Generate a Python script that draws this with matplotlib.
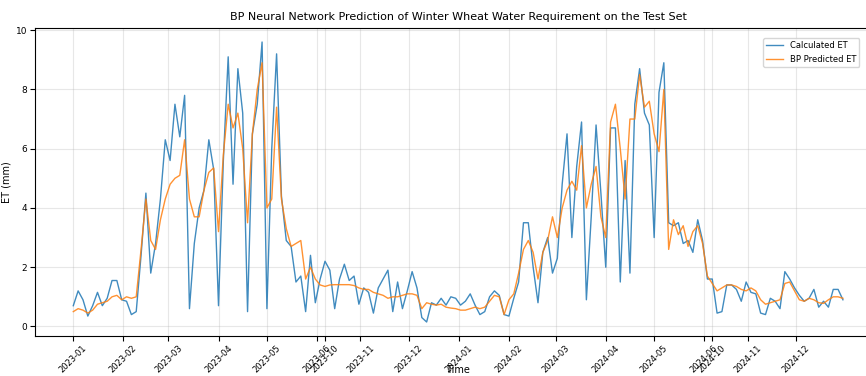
import numpy as np
import pandas as pd
import matplotlib
matplotlib.use("Agg")
import matplotlib.pyplot as plt

# test-set periods (winter wheat seasons), daily records
periods = [("2023-01-01", "2023-06-05"),
           ("2023-10-10", "2024-06-05"),
           ("2024-10-10", "2024-12-31")]
step_days = 3  # values below are read every 3rd day

calc_et = [0.7, 1.2, 0.9, 0.35, 0.7, 1.15, 0.7, 0.95, 1.55, 1.55,
           0.9, 0.85, 0.4, 0.5, 2.4, 4.5, 1.8, 2.8, 4.3, 6.3,
           5.6, 7.5, 6.4, 7.8, 0.6, 2.8, 4.0, 4.6, 6.3, 5.3,
           0.7, 5.6, 9.1, 4.8, 8.7, 7.2, 0.5, 6.5, 7.5, 9.6,
           0.6, 6.0, 9.2, 4.4, 2.9, 2.7, 1.5, 1.7, 0.5, 2.4,
           0.8, 1.6, 2.2, 1.9, 0.6, 1.6, 2.1, 1.55, 1.7, 0.75,
           1.3, 1.15, 0.45, 1.3, 1.6, 1.9, 0.5, 1.5, 0.6, 1.2,
           1.85, 1.3, 0.3, 0.15, 0.8, 0.72, 0.95, 0.72, 1.0, 0.95,
           0.72, 0.85, 1.1, 0.72, 0.4, 0.5, 1.0, 1.2, 1.05, 0.4,
           0.35, 0.95, 1.5, 3.5, 3.5, 2.0, 0.8, 2.5, 3.0, 1.8,
           2.3, 4.8, 6.5, 3.0, 5.4, 6.9, 0.9, 3.7, 6.8, 4.5,
           2.0, 6.7, 6.7, 1.5, 5.6, 1.8, 7.5, 8.7, 7.2, 6.8,
           3.0, 7.9, 8.9, 3.5, 3.4, 3.5, 2.8, 2.9, 2.5, 3.6,
           2.9, 1.6, 1.6, 0.45, 0.5, 1.4, 1.4, 1.25, 0.85, 1.5,
           1.15, 1.1, 0.45, 0.4, 0.95, 0.85, 0.6, 1.85, 1.6, 1.3,
           1.05, 0.85, 0.95, 1.25, 0.65, 0.85, 0.65, 1.25, 1.25, 0.9]

bp_et = [0.5, 0.6, 0.55, 0.45, 0.55, 0.75, 0.8, 0.85, 1.0, 1.05,
         0.9, 1.0, 0.95, 1.0, 2.6, 4.3, 2.9, 2.6, 3.6, 4.3,
         4.8, 5.0, 5.1, 6.3, 4.3, 3.7, 3.7, 4.6, 5.2, 5.35,
         3.2, 5.8, 7.5, 6.7, 7.2, 6.0, 3.5, 6.5, 8.0, 8.9,
         4.0, 4.3, 7.4, 4.3, 3.3, 2.7, 2.8, 2.9, 1.6, 2.0,
         1.6, 1.4, 1.35, 1.4, 1.41, 1.41, 1.41, 1.41, 1.38, 1.3,
         1.25, 1.25, 1.15, 1.1, 1.05, 0.95, 1.0, 1.0, 1.05, 1.1,
         1.1, 1.05, 0.6, 0.8, 0.75, 0.72, 0.75, 0.65, 0.62, 0.6,
         0.55, 0.55, 0.6, 0.65, 0.6, 0.65, 0.85, 1.05, 1.0, 0.4,
         0.9, 1.1, 1.8, 2.6, 2.9, 2.5, 1.6, 2.5, 2.9, 3.7,
         3.0, 4.0, 4.6, 4.9, 4.6, 6.1, 4.0, 4.8, 5.4, 3.7,
         3.0, 6.9, 7.5, 6.0, 4.3, 7.0, 7.0, 8.5, 7.4, 7.6,
         6.5, 5.9, 8.0, 2.6, 3.6, 3.1, 3.4, 2.7, 3.2, 3.4,
         2.8, 1.7, 1.45, 1.2, 1.3, 1.4, 1.4, 1.35, 1.25, 1.2,
         1.3, 1.2, 0.9, 0.75, 0.8, 0.85, 0.9, 1.45, 1.5, 1.2,
         0.9, 0.85, 0.95, 0.9, 0.8, 0.78, 0.9, 1.0, 1.0, 0.95]

days = pd.DatetimeIndex(np.concatenate(
    [pd.date_range(a, b, freq="D").values for a, b in periods]))
idx = np.arange(len(days))
x = idx[::step_days][:len(calc_et)]

# one tick at the first record of each month
months = days.to_period("M")
first = np.r_[True, months[1:] != months[:-1]]
tick_pos = idx[first]
tick_lab = [d.strftime("%Y-%m") for d in days[first]]

fig = plt.figure(figsize=(8.66, 3.76), dpi=100)
ax = fig.add_axes([0.0402, 0.1064, 0.9776, 0.8191])

ax.plot(x, calc_et, color="#1f77b4", lw=1.0, alpha=0.85, label="Calculated ET")
ax.plot(x, bp_et, color="#ff7f0e", lw=1.0, alpha=0.85, label="BP Predicted ET")

ax.set_xticks(tick_pos)
ax.set_xticklabels(tick_lab, rotation=45, fontsize=6)
ax.tick_params(axis="x", pad=2)
ax.tick_params(axis="y", labelsize=6.5, pad=2)
ax.set_xlabel("Time", fontsize=7)
ax.xaxis.set_label_coords(0.5, -0.095)
ax.set_ylabel("ET (mm)", fontsize=7, labelpad=3)
ax.set_title("BP Neural Network Prediction of Winter Wheat Water Requirement on the Test Set",
             fontsize=8)
ax.grid(True, alpha=0.3)
ax.legend(loc="upper right", fontsize=6, bbox_to_anchor=(0.997, 0.91),
          bbox_transform=fig.transFigure)

fig.savefig("out.png", dpi=100)
